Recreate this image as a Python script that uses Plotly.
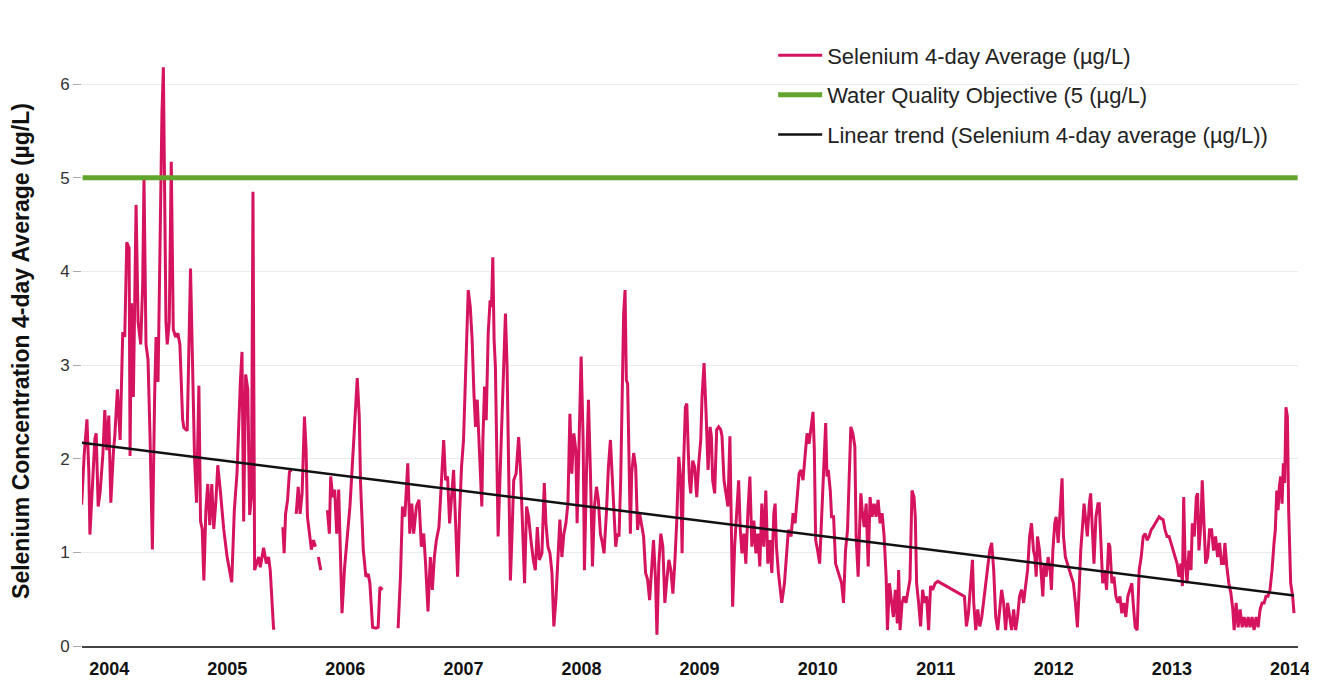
import plotly.graph_objects as go

# ---- data ----
years = [
    2003.767, 2003.789, 2003.812, 2003.828, 2003.837, 2003.859, 2003.879, 2003.890, 2003.907, 2003.924,
    2003.947, 2003.963, 2003.980, 2003.997, 2004.014, 2004.037, 2004.048, 2004.070, 2004.093, 2004.115,
    2004.132, 2004.149, 2004.169, 2004.177, 2004.189, 2004.205, 2004.228, 2004.245, 2004.267, 2004.284,
    2004.295, 2004.312, 2004.329, 2004.346, 2004.366, 2004.385, 2004.397, 2004.414, 2004.430, 2004.447,
    2004.459, 2004.470, 2004.481, 2004.492, 2004.509, 2004.526, 2004.543, 2004.563, 2004.582, 2004.599,
    2004.611, 2004.622, 2004.633, 2004.661, 2004.689, 2004.706, 2004.723, 2004.740, 2004.760, 2004.774,
    2004.788, 2004.802, 2004.819, 2004.835, 2004.852, 2004.869, 2004.886, 2004.903, 2004.920, 2004.942,
    2004.970, 2004.999, 2005.038, 2005.060, 2005.083, 2005.111, 2005.125, 2005.139, 2005.156, 2005.174,
    2005.190, 2005.205, 2005.218, 2005.232, 2005.266, 2005.280, 2005.308, 2005.331, 2005.350, 2005.364,
    2005.392, 2005.406, 2005.440,
    2005.471, 2005.482, 2005.494, 2005.511, 2005.527, 2005.544, 2005.565,
    2005.584, 2005.601, 2005.617, 2005.634, 2005.654, 2005.668, 2005.679, 2005.696, 2005.713, 2005.730,
    2005.747, 2005.758,
    2005.772, 2005.792, 2005.820,
    2005.848, 2005.865, 2005.876, 2005.893, 2005.910, 2005.927, 2005.944, 2005.961, 2005.972, 2005.994,
    2006.017, 2006.039, 2006.068, 2006.101, 2006.118, 2006.129, 2006.152, 2006.174, 2006.194, 2006.208,
    2006.231, 2006.259, 2006.278, 2006.293, 2006.315, 2006.380,
    2006.447, 2006.467, 2006.484, 2006.504, 2006.529, 2006.546, 2006.563, 2006.579,
    2006.602, 2006.624, 2006.644, 2006.664, 2006.681, 2006.700, 2006.720, 2006.737, 2006.754, 2006.771,
    2006.793, 2006.813, 2006.833, 2006.849, 2006.866, 2006.883, 2006.900, 2006.917, 2006.934, 2006.951,
    2006.968, 2006.984, 2007.001, 2007.018, 2007.041, 2007.058, 2007.074, 2007.089, 2007.103, 2007.117,
    2007.131, 2007.145, 2007.156, 2007.165, 2007.179, 2007.193, 2007.210, 2007.226, 2007.238, 2007.249,
    2007.260, 2007.271, 2007.283, 2007.294, 2007.311, 2007.328, 2007.339, 2007.356, 2007.370, 2007.384,
    2007.398, 2007.412, 2007.426, 2007.446, 2007.468, 2007.485, 2007.502, 2007.518, 2007.535, 2007.552,
    2007.572, 2007.592, 2007.609, 2007.626, 2007.643, 2007.665, 2007.685, 2007.699, 2007.716, 2007.733,
    2007.750, 2007.766, 2007.783, 2007.800, 2007.817, 2007.834, 2007.851, 2007.868, 2007.885, 2007.902,
    2007.918, 2007.935, 2007.952, 2007.963, 2007.980, 2007.997, 2008.014, 2008.025, 2008.042, 2008.059,
    2008.076, 2008.093, 2008.110, 2008.127, 2008.143, 2008.160, 2008.177, 2008.191, 2008.211, 2008.228,
    2008.245, 2008.262, 2008.279, 2008.290, 2008.304, 2008.318, 2008.332, 2008.346, 2008.357, 2008.369,
    2008.380, 2008.391, 2008.402, 2008.414, 2008.425, 2008.442, 2008.459, 2008.475, 2008.492, 2008.509,
    2008.526, 2008.543, 2008.560, 2008.577, 2008.594, 2008.610, 2008.627, 2008.639, 2008.655, 2008.672,
    2008.689, 2008.706, 2008.723, 2008.740, 2008.757, 2008.774, 2008.790, 2008.807, 2008.824, 2008.841,
    2008.852, 2008.864, 2008.880, 2008.892, 2008.903, 2008.914, 2008.925, 2008.942, 2008.959, 2008.976,
    2008.993, 2009.010, 2009.021, 2009.038, 2009.055, 2009.072, 2009.089, 2009.100, 2009.111, 2009.128,
    2009.145, 2009.162, 2009.179, 2009.190, 2009.207, 2009.224, 2009.240, 2009.257, 2009.269, 2009.280,
    2009.297, 2009.314, 2009.331, 2009.345, 2009.359, 2009.376, 2009.392, 2009.409, 2009.426, 2009.443,
    2009.460, 2009.477, 2009.494, 2009.510, 2009.527, 2009.544, 2009.561, 2009.578, 2009.595, 2009.612,
    2009.629, 2009.640, 2009.651, 2009.668, 2009.685, 2009.696, 2009.719, 2009.736, 2009.752, 2009.775,
    2009.792, 2009.809, 2009.826, 2009.843, 2009.859, 2009.876, 2009.893, 2009.910, 2009.927, 2009.944,
    2009.961, 2009.972, 2009.983, 2010.000, 2010.017, 2010.034, 2010.051, 2010.068, 2010.079, 2010.090,
    2010.107, 2010.118, 2010.135, 2010.152, 2010.169, 2010.186, 2010.203, 2010.219, 2010.236, 2010.253,
    2010.270, 2010.281, 2010.298, 2010.315, 2010.326, 2010.343, 2010.354, 2010.366, 2010.377, 2010.394,
    2010.411, 2010.428, 2010.444, 2010.461, 2010.478, 2010.495, 2010.512, 2010.529, 2010.546, 2010.563,
    2010.580, 2010.591, 2010.608, 2010.625, 2010.641, 2010.658, 2010.675, 2010.686, 2010.698, 2010.715,
    2010.731, 2010.748, 2010.765, 2010.782, 2010.799, 2010.816, 2010.827, 2010.838, 2010.855, 2010.872,
    2010.889, 2010.906, 2010.923, 2010.940, 2010.956, 2010.973, 2010.996, 2011.018, 2011.243, 2011.260,
    2011.277, 2011.294, 2011.311, 2011.322, 2011.339, 2011.356, 2011.373, 2011.390, 2011.407, 2011.423,
    2011.440, 2011.457, 2011.474, 2011.491, 2011.508, 2011.525, 2011.542, 2011.558, 2011.575, 2011.592,
    2011.609, 2011.626, 2011.643, 2011.660, 2011.677, 2011.693, 2011.710, 2011.727, 2011.744, 2011.761,
    2011.778, 2011.795, 2011.811, 2011.828, 2011.840, 2011.851, 2011.862, 2011.879, 2011.890, 2011.907,
    2011.918, 2011.935, 2011.952, 2011.969, 2011.980, 2011.992, 2012.008, 2012.020, 2012.037, 2012.053,
    2012.070, 2012.082, 2012.098, 2012.115, 2012.132, 2012.149, 2012.166, 2012.183, 2012.200, 2012.217,
    2012.228, 2012.245, 2012.256, 2012.273, 2012.284, 2012.301, 2012.312, 2012.324, 2012.340, 2012.357,
    2012.374, 2012.385, 2012.397, 2012.414, 2012.430, 2012.447, 2012.464, 2012.475, 2012.492, 2012.509,
    2012.526, 2012.543, 2012.560, 2012.576, 2012.593, 2012.610, 2012.627, 2012.644, 2012.661, 2012.672,
    2012.689, 2012.706, 2012.723, 2012.740, 2012.757, 2012.774, 2012.790, 2012.807, 2012.824, 2012.841,
    2012.858, 2012.875, 2012.892, 2012.909, 2012.925, 2012.942, 2012.959, 2012.976, 2012.993, 2013.010,
    2013.027, 2013.044, 2013.060, 2013.077, 2013.089, 2013.100, 2013.111, 2013.128, 2013.145, 2013.162,
    2013.173, 2013.190, 2013.207, 2013.218, 2013.229, 2013.246, 2013.257, 2013.269, 2013.286, 2013.303,
    2013.319, 2013.336, 2013.353, 2013.370, 2013.387, 2013.404, 2013.420, 2013.437, 2013.449, 2013.465,
    2013.482, 2013.499, 2013.516, 2013.527, 2013.544, 2013.561, 2013.578, 2013.595, 2013.612, 2013.629,
    2013.646, 2013.662, 2013.679, 2013.696, 2013.713, 2013.730, 2013.747, 2013.764, 2013.781, 2013.797,
    2013.814, 2013.831, 2013.848, 2013.865, 2013.876, 2013.888, 2013.899, 2013.910, 2013.921, 2013.933,
    2013.944, 2013.955, 2013.966, 2013.978, 2013.989, 2014.006, 2014.023, 2014.034,
]

selenium = [
    1.51, 2.05, 2.42, 1.85, 1.19, 1.73, 2.21, 2.27, 1.49, 1.65,
    2.05, 2.52, 2.09, 2.46, 1.53, 2.09, 2.25, 2.74, 2.20, 3.35,
    3.30, 4.31, 4.25, 2.03, 3.66, 2.66, 4.71, 3.46, 3.22, 3.86,
    4.99, 3.22, 3.06, 2.25, 1.03, 2.66, 3.30, 2.82, 4.27, 5.68,
    6.18, 5.07, 3.46, 3.22, 3.46, 5.17, 3.38, 3.30, 3.34, 3.22,
    2.82, 2.42, 2.33, 2.30, 4.03, 3.06, 2.01, 1.53, 2.78, 1.33,
    1.25, 0.70, 1.45, 1.73, 1.29, 1.73, 1.25, 1.53, 1.93, 1.65,
    1.25, 0.95, 0.68, 1.45, 1.85, 2.82, 3.14, 1.33, 2.90, 2.74,
    1.40, 1.60, 4.85, 0.81, 0.95, 0.84, 1.05, 0.88, 0.95, 0.81,
    0.19, 0.19, None,
    1.27, 0.99, 1.41, 1.56, 1.86, 1.88, None,
    1.41, 1.70, 1.41, 1.63, 2.45, 2.09, 1.38, 1.20, 1.03, 1.13,
    1.06, None,
    0.95, 0.81, None,
    1.45, 1.20, 1.81, 1.59, 1.67, 1.20, 1.67, 0.67, 0.35, 0.84,
    1.20, 1.49, 2.12, 2.86, 2.45, 1.74, 1.03, 0.74, 0.77, 0.67,
    0.20, 0.19, 0.20, 0.63, 0.60, None,
    0.19, 0.74, 1.49, 1.38, 1.95, 1.20, 1.52, 1.20,
    1.49, 1.56, 1.06, 1.20, 0.85, 0.37, 0.95, 0.60, 0.95, 1.13,
    1.27, 1.77, 2.20, 1.77, 1.81, 1.31, 1.63, 1.88, 1.31, 0.74,
    1.42, 1.91, 2.20, 2.91, 3.80, 3.62, 3.27, 2.70, 2.34, 2.63,
    2.20, 1.70, 1.49, 2.20, 2.77, 2.41, 3.34, 3.69, 3.62, 4.15,
    3.27, 2.98, 1.84, 1.17, 1.84, 2.48, 2.91, 3.55, 2.98, 2.02,
    0.70, 1.20, 1.77, 1.84, 2.23, 1.84, 1.31, 0.67, 1.49, 1.38,
    1.13, 0.92, 0.81, 1.27, 0.92, 0.99, 1.74, 1.31, 1.06, 0.99,
    0.78, 0.21, 0.49, 0.99, 1.35, 0.95, 1.20, 1.31, 1.52, 2.48,
    1.84, 2.27, 2.09, 1.31, 2.34, 3.09, 2.20, 0.81, 1.84, 2.63,
    1.84, 0.85, 1.49, 1.70, 1.56, 1.20, 1.10, 0.99, 1.42, 1.91,
    2.20, 1.77, 1.34, 1.06, 1.20, 1.17, 1.77, 2.84, 3.55, 3.80,
    2.84, 2.80, 1.91, 1.20, 1.84, 2.06, 1.91, 1.24, 1.42, 1.31,
    1.17, 0.78, 0.71, 0.49, 0.88, 1.13, 0.71, 0.12, 0.88, 1.20,
    1.06, 0.46, 0.71, 0.92, 0.81, 0.56, 0.88, 1.34, 2.02, 1.77,
    0.99, 1.91, 2.55, 2.59, 2.13, 1.77, 1.63, 1.98, 1.91, 1.59,
    1.95, 2.20, 2.66, 3.02, 2.49, 1.88, 2.34, 2.24, 1.77, 1.63,
    2.31, 2.34, 2.31, 2.24, 1.77, 1.63, 1.49, 2.24, 1.42, 0.42,
    1.06, 1.42, 1.77, 1.24, 0.99, 1.20, 0.88, 1.42, 1.81, 1.06,
    1.34, 0.99, 1.20, 0.85, 1.52, 1.06, 1.66, 0.88, 1.13, 0.78,
    1.42, 1.52, 1.06, 0.78, 0.56, 0.46, 0.67, 1.02, 1.24, 1.17,
    1.42, 1.31, 1.59, 1.84, 1.88, 1.77, 2.02, 2.27, 2.16, 2.34,
    2.50, 2.09, 1.13, 1.02, 0.88, 1.38, 1.98, 2.38, 1.81, 1.88,
    1.66, 1.38, 1.38, 0.88, 0.81, 0.74, 0.67, 0.46, 1.02, 1.24,
    2.09, 2.34, 2.27, 2.13, 1.17, 0.74, 1.20, 1.63, 1.45, 1.27,
    1.52, 0.85, 1.59, 1.38, 1.52, 1.38, 1.56, 1.31, 1.42, 1.17,
    0.74, 0.17, 0.67, 0.49, 0.31, 0.60, 0.24, 0.81, 0.17, 0.46,
    0.53, 0.46, 0.60, 0.71, 1.66, 1.59, 1.38, 0.67, 0.46, 0.21,
    0.60, 0.46, 0.53, 0.17, 0.64, 0.60, 0.67, 0.69, 0.53, 0.21,
    0.35, 0.67, 0.92, 0.46, 0.17, 0.39, 0.21, 0.31, 0.49, 0.67,
    0.85, 1.02, 1.10, 0.81, 0.31, 0.17, 0.39, 0.60, 0.46, 0.17,
    0.46, 0.31, 0.17, 0.39, 0.17, 0.31, 0.53, 0.60, 0.46, 0.64,
    0.81, 1.17, 1.31, 1.02, 0.95, 0.74, 1.17, 1.02, 0.85, 0.53,
    0.88, 0.74, 0.95, 0.81, 0.60, 1.02, 1.31, 1.38, 1.10, 1.45,
    1.79, 1.17, 0.95, 0.88, 0.81, 0.74, 0.67, 0.46, 0.20, 0.67,
    1.02, 1.31, 1.52, 1.31, 1.17, 1.52, 1.63, 1.31, 0.88, 1.38,
    1.52, 1.52, 1.17, 0.67, 0.81, 0.60, 1.10, 1.06, 0.67, 0.74,
    0.53, 0.46, 0.53, 0.35, 0.46, 0.31, 0.53, 0.60, 0.67, 0.46,
    0.20, 0.17, 0.81, 0.95, 1.17, 1.20, 1.13, 1.17, 1.24, 1.27,
    1.31, 1.35, 1.38, 1.36, 1.35, 1.24, 1.17, 1.17, 1.10, 1.02,
    0.95, 0.88, 0.74, 0.88, 0.64, 1.59, 0.95, 0.67, 1.02, 0.81,
    1.31, 1.17, 1.59, 1.63, 1.02, 1.31, 1.77, 1.45, 0.88, 0.95,
    1.24, 1.24, 1.02, 1.17, 0.95, 1.10, 0.88, 0.88, 1.10, 0.85,
    0.67, 0.57, 0.39, 0.17, 0.46, 0.20, 0.39, 0.20, 0.31, 0.20,
    0.31, 0.20, 0.31, 0.17, 0.31, 0.20, 0.39, 0.46, 0.46, 0.53,
    0.53, 0.60, 0.81, 1.10, 1.24, 1.66, 1.45, 1.70, 1.81, 1.52,
    1.95, 1.74, 2.55, 2.45, 1.45, 0.67, 0.53, 0.35,
]

objective_years = [2003.775, 2014.065]
objective_values = [5.0, 5.0]

trend_years = [2003.767, 2014.034]
trend_values = [2.17, 0.54]

tick_years = [2004, 2005, 2006, 2007, 2008, 2009, 2010, 2011, 2012, 2013, 2014]
tick_labels = ["2004", "2005", "2006", "2007", "2008", "2009", "2010", "2011", "2012", "2013", "2014"]

FONT = "Liberation Sans, Arial, sans-serif"

fig = go.Figure()
fig.add_trace(go.Scatter(
    x=years, y=selenium, mode="lines", name="Selenium 4-day Average (µg/L)",
    line=dict(color="#d5135e", width=3), connectgaps=False, legendgroup="a",
))
fig.add_trace(go.Scatter(
    x=objective_years, y=objective_values, mode="lines", name="Water Quality Objective (5 (µg/L)",
    line=dict(color="#62a52c", width=5), legendgroup="b",
))
fig.add_trace(go.Scatter(
    x=trend_years, y=trend_values, mode="lines", name="Linear trend (Selenium 4-day average (µg/L))",
    line=dict(color="#111111", width=2.5), legendgroup="c",
))

fig.update_layout(
    width=1317, height=698,
    margin=dict(l=70, r=27, t=48, b=60),
    paper_bgcolor="white", plot_bgcolor="white",
    font=dict(family=FONT, color="#222222"),
    showlegend=True,
    legend=dict(
        x=0.5684, y=1.0366, xanchor="left", yanchor="top",
        bgcolor="rgba(0,0,0,0)", font=dict(size=22, family=FONT, color="#222222"),
        traceorder="grouped", tracegroupgap=8, itemwidth=44,
    ),
    xaxis=dict(
        range=[2003.77, 2014.068], tickmode="array", tickvals=tick_years, ticktext=tick_labels,
        tickfont=dict(size=18, family=FONT, color="#111111", weight="bold"),
        showgrid=False, zeroline=False, showline=True, linecolor="#444444", linewidth=1.5,
        ticks="", ticklabelstandoff=6,
    ),
    yaxis=dict(
        range=[0, 6.3], dtick=1, tick0=0,
        tickfont=dict(size=17, family=FONT, color="#333333"),
        showgrid=True, gridcolor="#ececec", gridwidth=1, zeroline=False, showline=False,
        ticks="outside", ticklen=8, tickcolor="#aaaaaa",
        title=dict(text="<b>Selenium Concentration 4-day Average (µg/L)</b>",
                   font=dict(size=23, family=FONT, color="#111111"), standoff=24),
    ),
)

fig.write_html("out.html")
